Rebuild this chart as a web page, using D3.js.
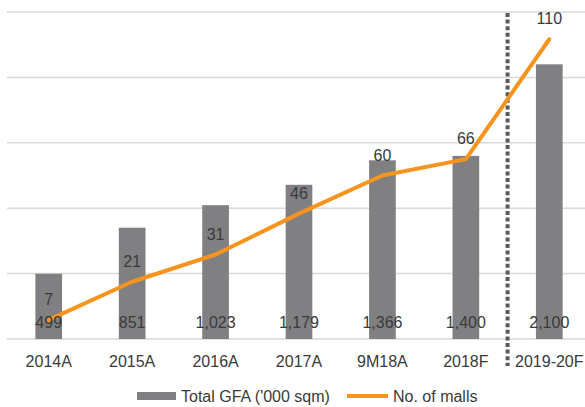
<!DOCTYPE html>
<html><head><meta charset="utf-8">
<script src="https://cdn.jsdelivr.net/npm/d3@7"></script>
<style>body{margin:0;background:#fff}svg{display:block}text{font-family:"Liberation Sans",Arial,sans-serif;fill:#3a3a3a}</style>
</head><body><svg id="c" width="585" height="407"></svg>
<script>
const categories = ["2014A","2015A","2016A","2017A","9M18A","2018F","2019-20F"];
const gfa = [499,851,1023,1179,1366,1400,2100];
const gfaLabels = ["499","851","1,023","1,179","1,366","1,400","2,100"];
const malls = [7,21,31,46,60,66,110];
const gridTicks = [0,500,1000,1500,2000,2500];

const svg = d3.select("#c");
const x = d3.scaleBand().domain(categories).range([7,591]).paddingInner(0.68).paddingOuter(0.34);
const yL = d3.scaleLinear().domain([0,2500]).range([339,12]);
const yR = d3.scaleLinear().domain([0,120]).range([339,12]);
const cx = d => x(d) + x.bandwidth()/2;

svg.append("g").selectAll("line").data(gridTicks).join("line")
  .attr("x1",7).attr("x2",591).attr("y1",d=>yL(d)).attr("y2",d=>yL(d))
  .attr("stroke","#d9d9d9").attr("stroke-width",1.5);

svg.append("g").selectAll("rect").data(categories).join("rect")
  .attr("x",d=>x(d)).attr("width",x.bandwidth())
  .attr("y",(d,i)=>yL(gfa[i])).attr("height",(d,i)=>yL(0)-yL(gfa[i]))
  .attr("fill","#808083");

// separator
const sepX = (cx(categories[5]) + cx(categories[6]))/2;
svg.append("line").attr("x1",sepX).attr("x2",sepX).attr("y1",13).attr("y2",366)
  .attr("stroke","#595959").attr("stroke-width",4).attr("stroke-dasharray","4,2.6");

svg.append("path").datum(categories)
  .attr("d", d3.line().x(d=>cx(d)).y((d,i)=>yR(malls[i])))
  .attr("fill","none").attr("stroke","#F7941E").attr("stroke-width",4).attr("stroke-linejoin","round").attr("stroke-linecap","round");

svg.append("g").selectAll("text").data(categories).join("text")
  .attr("x",d=>cx(d)).attr("y",(d,i)=>yR(malls[i])-15)
  .attr("text-anchor","middle").attr("font-size",16).text((d,i)=>malls[i]);

svg.append("g").selectAll("text").data(categories).join("text")
  .attr("x",d=>cx(d)).attr("y",328)
  .attr("text-anchor","middle").attr("font-size",16).text((d,i)=>gfaLabels[i]);

svg.append("g").selectAll("text").data(categories).join("text")
  .attr("x",d=>cx(d)).attr("y",367)
  .attr("text-anchor","middle").attr("font-size",16).text(d=>d);

// legend
svg.append("rect").attr("x",137).attr("y",392).attr("width",39).attr("height",8).attr("fill","#808083");
svg.append("text").attr("x",181).attr("y",402).attr("font-size",16).text("Total GFA ('000 sqm)");
svg.append("line").attr("x1",347).attr("x2",388).attr("y1",396).attr("y2",396).attr("stroke","#F7941E").attr("stroke-width",4);
svg.append("text").attr("x",393).attr("y",402).attr("font-size",16).text("No. of malls");
</script></body></html>
